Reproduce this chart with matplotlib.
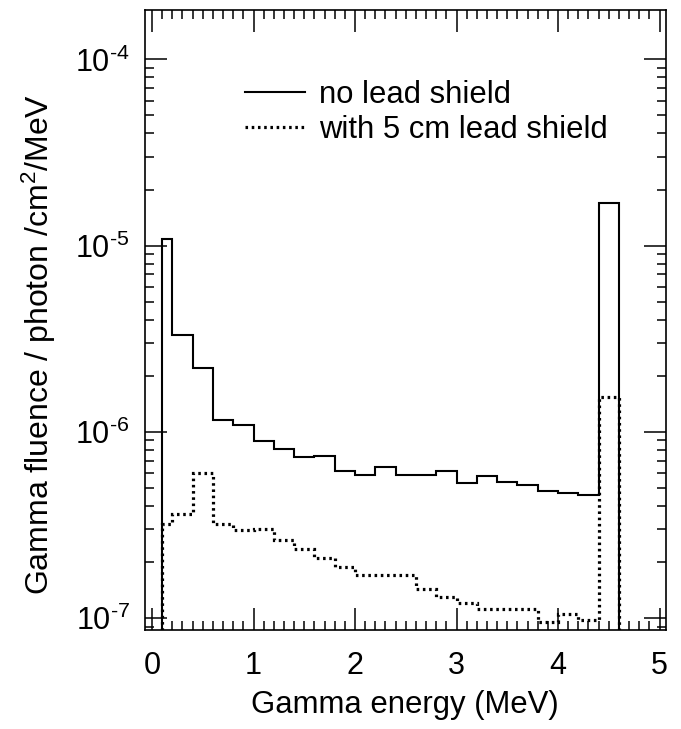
import numpy as np
import matplotlib
matplotlib.use("Agg")
import matplotlib.pyplot as plt
from matplotlib.ticker import LogLocator, MultipleLocator, FuncFormatter, NullFormatter

plt.rcParams['font.family'] = ['Liberation Sans', 'DejaVu Sans']
plt.rcParams['mathtext.fontset'] = 'custom'
plt.rcParams['mathtext.rm'] = 'Liberation Sans'
plt.rcParams['mathtext.it'] = 'Liberation Sans'

# bin edges (MeV) and fluence per bin
edges = [0.1, 0.2, 0.4, 0.6, 0.8, 1.0, 1.2, 1.4, 1.6, 1.8, 2.0, 2.2,
         2.4, 2.6, 2.8, 3.0, 3.2, 3.4, 3.6, 3.8, 4.0, 4.2, 4.4, 4.6]
no_shield = [1.09e-5, 3.3e-6, 2.2e-6, 1.16e-6, 1.09e-6, 8.9e-7, 8.1e-7,
             7.3e-7, 7.45e-7, 6.2e-7, 5.9e-7, 6.5e-7, 5.9e-7, 5.9e-7,
             6.2e-7, 5.3e-7, 5.8e-7, 5.35e-7, 5.2e-7, 4.8e-7, 4.7e-7,
             4.6e-7, 1.69e-5]
lead_shield = [3.2e-7, 3.6e-7, 6.0e-7, 3.2e-7, 2.97e-7, 3.0e-7, 2.64e-7,
               2.36e-7, 2.11e-7, 1.87e-7, 1.7e-7, 1.7e-7, 1.7e-7, 1.43e-7,
               1.29e-7, 1.2e-7, 1.12e-7, 1.12e-7, 1.12e-7, 9.55e-8, 1.05e-7,
               9.8e-8, 1.53e-6]
labels = ['no lead shield', 'with 5 cm lead shield']

fig = plt.figure(figsize=(6.81, 7.29), dpi=100)
ax = fig.add_axes([145 / 681, 1 - 630 / 729, 521 / 681, 620 / 729])

ax.stairs(no_shield, edges, baseline=1e-10, color='black', lw=1.5,
          label=labels[0])
ax.stairs(lead_shield, edges, baseline=1e-10, color='black', lw=2.3,
          linestyle=(0, (0.8, 1.15)), label=labels[1])

ax.set_yscale('log')
ax.set_xlim(-0.069, 5.064)
ax.set_ylim(10 ** -7.064, 10 ** -3.735)

ax.xaxis.set_major_locator(MultipleLocator(1))
ax.xaxis.set_minor_locator(MultipleLocator(0.1))
ax.yaxis.set_major_locator(LogLocator(base=10, numticks=10))
ax.yaxis.set_minor_locator(LogLocator(base=10, subs=np.arange(2, 10), numticks=10))
ax.yaxis.set_minor_formatter(NullFormatter())
ax.yaxis.set_major_formatter(FuncFormatter(
    lambda v, p: r'$\mathregular{10^{\text{-}%d}}$' % abs(int(round(np.log10(v))))))

ax.tick_params(which='both', direction='in', top=True, right=True,
               width=1.1, labelsize=22)
ax.tick_params(which='major', length=16)
ax.tick_params(which='minor', length=6.5)
ax.tick_params(axis='y', pad=11)
ax.tick_params(axis='x', pad=15)
for s in ax.spines.values():
    s.set_linewidth(1.2)

ax.set_xlabel('Gamma energy (MeV)', fontsize=22.4)
ax.xaxis.set_label_coords(0.498, -0.097)
ax.set_ylabel(r'Gamma fluence / photon /cm$^2$/MeV', fontsize=23)
ax.yaxis.set_label_coords(-0.167, 0.46)

ax.legend(loc='upper left', bbox_to_anchor=(0.192, 0.887), frameon=False,
          fontsize=22.3, handlelength=1.94, handletextpad=0.45,
          labelspacing=0.15, borderpad=0, borderaxespad=0)

fig.savefig('out.png', dpi=100)
